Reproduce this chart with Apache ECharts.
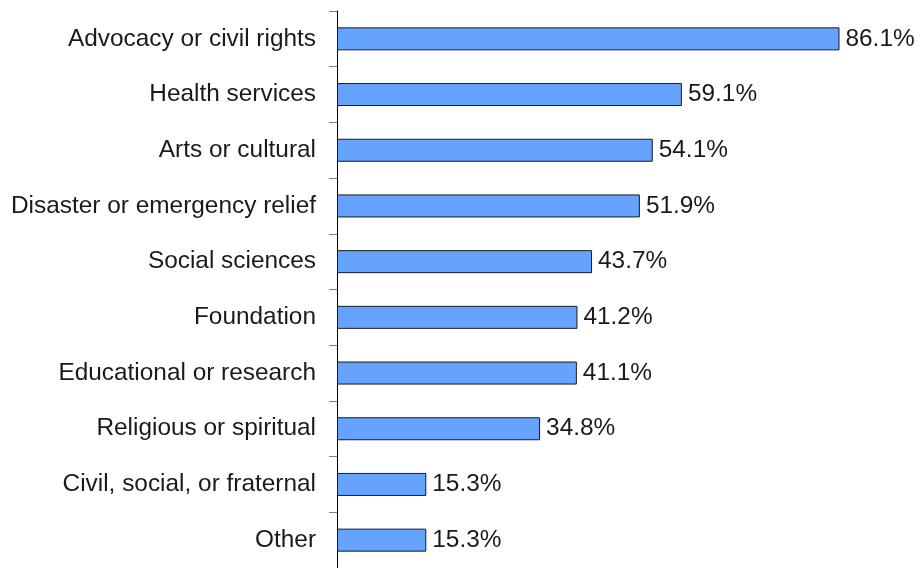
<!DOCTYPE html>
<html>
<head>
<meta charset="utf-8">
<style>
  html, body { margin: 0; padding: 0; background: #ffffff; }
  #chart { width: 924px; height: 568px; }
</style>
<script src="https://cdn.jsdelivr.net/npm/echarts@6/dist/echarts.min.js"></script>
</head>
<body>
<div id="chart"></div>
<script>
// Organization types, top to bottom
const categories = [
  'Advocacy or civil rights',
  'Health services',
  'Arts or cultural',
  'Disaster or emergency relief',
  'Social sciences',
  'Foundation',
  'Educational or research',
  'Religious or spiritual',
  'Civil, social, or fraternal',
  'Other'
];

// Share of respondents (%)
const shares = [86.1, 59.1, 54.1, 51.9, 43.7, 41.2, 41.1, 34.8, 15.3, 15.3];

const FONT = '"Liberation Sans", Arial, sans-serif';
const FONT_SIZE = 24.4;
const TEXT_COLOR = '#1a1a1a';

const chart = echarts.init(document.getElementById('chart'), null, { renderer: 'canvas' });

chart.setOption({
  animation: false,
  backgroundColor: '#ffffff',
  grid: { left: 337, right: 3.4, top: 11, bottom: -3, containLabel: false },
  xAxis: {
    type: 'value',
    min: 0,
    max: 100,
    show: false
  },
  yAxis: {
    type: 'category',
    data: categories,
    inverse: true,
    axisLine: { show: true, lineStyle: { color: '#000000', width: 1 } },
    axisTick: { show: true, inside: false, length: 8, lineStyle: { color: '#808080', width: 1 } },
    axisLabel: {
      margin: 21,
      color: TEXT_COLOR,
      fontFamily: FONT,
      fontSize: FONT_SIZE
    },
    splitLine: { show: false }
  },
  series: [{
    type: 'bar',
    data: shares,
    barWidth: 23,
    itemStyle: {
      color: '#66a3ff',
      borderColor: '#1a1a1a',
      borderWidth: 1
    },
    label: {
      show: true,
      position: 'right',
      distance: 6,
      color: TEXT_COLOR,
      fontFamily: FONT,
      fontSize: FONT_SIZE,
      formatter: p => p.value.toFixed(1) + '%'
    }
  }]
});
</script>
</body>
</html>
